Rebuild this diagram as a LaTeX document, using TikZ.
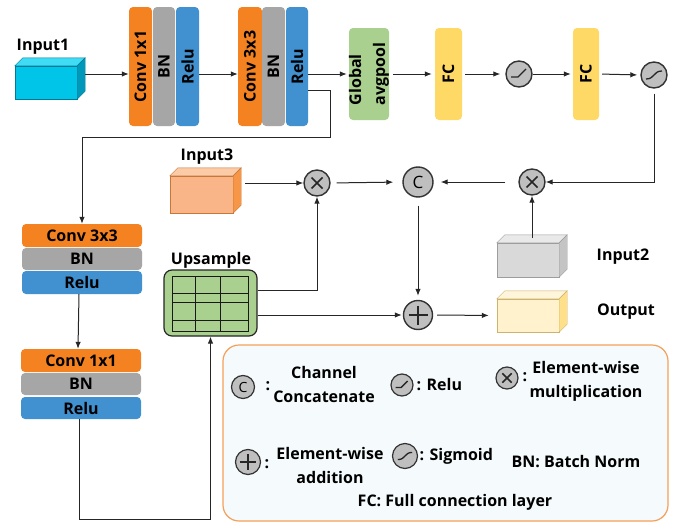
\documentclass[tikz,border=0pt]{standalone}
\usepackage{fontspec}
\setmainfont{Open Sans}
\usetikzlibrary{arrows.meta,calc}
\definecolor{cOr}{HTML}{F58220}
\definecolor{cGr}{HTML}{A6A6A6}
\definecolor{cBl}{HTML}{4190D0}
\definecolor{cGn}{HTML}{A9D08E}
\definecolor{cYe}{HTML}{FFD966}
\definecolor{legor}{HTML}{F5A05A}
\definecolor{legbg}{HTML}{F5FAFC}
\definecolor{iaf}{HTML}{00C4E8}
\definecolor{iat}{HTML}{40DCF5}
\definecolor{ias}{HTML}{0098BA}
\definecolor{icf}{HTML}{F9B488}
\definecolor{ict}{HTML}{FBCBA8}
\definecolor{ics}{HTML}{F79646}
\definecolor{ibf}{HTML}{D9D9D9}
\definecolor{ibt}{HTML}{E9E9E9}
\definecolor{ibs}{HTML}{C4C4C4}
\definecolor{iof}{HTML}{FFF2CC}
\definecolor{iot}{HTML}{FFF5DA}
\definecolor{ios}{HTML}{FFE08A}
\newcommand{\fsz}{\fontsize{16}{24}\selectfont\bfseries}
\newcommand{\mycube}[8]{%
  \node[inner sep=0pt, minimum width=#4, minimum height=#5, fill=#6, draw=#8!80!black, line width=0.4pt] (#1) at (#2,#3) {};
  \filldraw[fill=#7, draw=#8!80!black, line width=0.4pt] (#1.north west) -- ++(8,-8) -- ([shift={(8,-8)}]#1.north east) -- (#1.north east) -- cycle;
  \filldraw[fill=#8, draw=#8!80!black, line width=0.4pt] (#1.north east) -- ([shift={(8,-8)}]#1.north east) -- ([shift={(8,-8)}]#1.south east) -- (#1.south east) -- cycle;
}
\begin{document}
\begin{tikzpicture}[x=1pt,y=-1pt,
  every node/.style={font=\fsz},
  arr/.style={draw=black!85, line width=1pt, -{Latex[length=7pt,width=5.5pt]}},
  ln/.style={draw=black!85, line width=1pt},
  blk/.style={rounded corners=4pt, inner sep=0pt},
  opc/.style={circle, draw=black!80, line width=1.4pt, fill=black!25, minimum size=#1, inner sep=0pt},
  opc/.default=26pt,
  pmul/.pic={\draw[line width=1.6pt,black!85] (-5.5,-5.5)--(5.5,5.5) (-5.5,5.5)--(5.5,-5.5);},
  padd/.pic={\draw[line width=1.7pt,black!85] (-9.5,0)--(9.5,0) (0,-9.5)--(0,9.5);},
  prelu/.pic={\draw[line width=1.3pt,black!85] (-8,3)--(-1,3)--(7,-5);},
  psig/.pic={\draw[line width=1.3pt,black!85] (-8,4) .. controls (1,4) and (-1,-4) .. (8,-4);},
]
\useasboundingbox (0,0) rectangle (686,522);
\fill[white] (0,0) rectangle (686,522);
\coordinate (row) at (0,74);

% ---- Input1
\node (lin1) at (43,47) {Input1};
\mycube{in1}{46}{82.5}{62pt}{33pt}{iaf}{iat}{ias}
\coordinate (in1r) at ([xshift=8pt]in1.east);

% ---- block 1
\node[blk, fill=cOr, minimum width=23pt, minimum height=119pt] (c1) at (140.5,66.5) {};
\node[rotate=90] (tc1) at (c1) {Conv 1x1};
\node[blk, fill=cGr, minimum width=22pt, minimum height=119pt] (b1) at (164,66.5) {};
\node[rotate=90] (tb1) at (b1) {BN};
\node[blk, fill=cBl, minimum width=23pt, minimum height=119pt] (r1) at (187.5,66.5) {};
\node[rotate=90] (tr1) at (r1) {Relu};

% ---- block 2
\node[blk, fill=cOr, minimum width=24pt, minimum height=119pt] (c2) at (250,66.5) {};
\node[rotate=90] (tc2) at (c2) {Conv 3x3};
\node[blk, fill=cGr, minimum width=23pt, minimum height=119pt] (b2) at (273.5,66.5) {};
\node[rotate=90] (tb2) at (b2) {BN};
\node[blk, fill=cBl, minimum width=22pt, minimum height=119pt] (r2) at (297,66.5) {};
\node[rotate=90] (tr2) at (r2) {Relu};

% ---- GAP, FC
\node[blk, fill=cGn, minimum width=40pt, minimum height=92pt] (gap) at (369,74) {};
\node[rotate=90, align=left] (tgap) at (gap) {Global\\avgpool};
\node[blk, fill=cYe, minimum width=27pt, minimum height=92pt] (fc1) at (448.5,74) {};
\node[rotate=90] (tfc1) at (fc1) {FC};
\node[opc] (rl) at (519,74) {};
\pic at (rl) {prelu};
\node[blk, fill=cYe, minimum width=26pt, minimum height=92pt] (fc2) at (586,74) {};
\node[rotate=90] (tfc2) at (fc2) {FC};
\node[opc] (sg) at (654,75) {};
\pic at (sg) {psig};

\draw[arr] (in1r |- row) -- (c1.west |- row);
\draw[arr] (r1.east |- row) -- (c2.west |- row);
\draw[arr] (r2.east |- row) -- ([xshift=-2pt]gap.west |- row);
\draw[arr, shorten <=4pt, shorten >=3pt] (gap.east) -- (fc1.west);
\draw[arr, shorten <=3pt, shorten >=5pt] (fc1.east) -- (rl.west);
\draw[arr, shorten >=2pt] (rl.east) -- (fc2.west);
\draw[arr, shorten <=3pt, shorten >=3pt] (fc2.east) -- (sg.west);

% ---- middle row
\node (lin3) at (207,157) {Input3};
\mycube{in3}{201.5}{194.5}{63pt}{37pt}{icf}{ict}{ics}
\coordinate (in3r) at ([xshift=12pt]in3.east);
\node[opc] (m1) at (317,183) {};
\pic at (m1) {pmul};
\node[opc=30pt] (cc) at (418,182) {};
\node[font=\fontsize{17}{17}\selectfont\mdseries] (tcc) at (cc) {C};
\node[opc] (m2) at (532,182) {};
\pic at (m2) {pmul};

\node (lin2) at (623,257) {Input2};
\mycube{in2}{528}{260}{62pt}{34pt}{ibf}{ibt}{ibs}
\coordinate (in2t) at ([shift={(4,-5)}]in2.north);

\node[opc=29pt] (pl) at (418,315) {};
\pic at (pl) {padd};
\node (lout) at (626,312) {Output};
\mycube{out}{528}{315.5}{62pt}{33pt}{iof}{iot}{ios}

\draw[arr] (in3r |- m1) -- (m1.west);
\draw[arr, shorten <=6pt, shorten >=9pt] (m1.east) -- (cc.west);
\draw[arr, shorten <=13pt, shorten >=7pt] (m2.west) -- (cc.east);
\draw[arr, shorten <=5pt] (sg.south) |- (m2.east);
\draw[arr] (in2t) -- (in2t |- m2.south);
\draw[arr, shorten <=8pt, shorten >=4pt] (cc.south) -- (pl.north);
\draw[arr, shorten <=4pt, shorten >=8pt] (pl.east) -- (out.west);

% ---- Upsample
\node (lup) at (211,260) {Upsample};
\node[draw=black!85, line width=1.2pt, fill=cGn, rounded corners=8pt, minimum width=93pt, minimum height=66pt, inner sep=0pt] (up) at (210.5,303) {};
\draw[black!90, line width=1pt] (172,276) rectangle (248,331)
  (195,276) -- (195,331) (220,276) -- (220,331)
  (172,293) -- (248,293) (172,302) -- (248,302) (172,320) -- (248,320);
\draw[arr] ([yshift=13pt]up.east) -| (m1.south);
\draw[arr, shorten >=1pt] ([yshift=-12pt]up.east) -- (pl.west);

% ---- left stacks
\node[blk, fill=cOr, minimum width=120pt, minimum height=23pt] (lc1) at (82,235.5) {Conv 3x3};
\node[blk, fill=cGr, minimum width=120pt, minimum height=22pt] (lb1) at (82,259) {BN};
\node[blk, fill=cBl, minimum width=120pt, minimum height=23pt] (lr1) at (82,282.5) {Relu};
\node[blk, fill=cOr, minimum width=120pt, minimum height=23pt] (lc2) at (81,360.5) {Conv 1x1};
\node[blk, fill=cGr, minimum width=120pt, minimum height=22pt] (lb2) at (81,384) {BN};
\node[blk, fill=cBl, minimum width=120pt, minimum height=22pt] (lr2) at (81,408) {Relu};

\draw[arr] ([yshift=-24pt]r2.east) -- ++(22,0) -- ++(0,47) -| (lc1.north);
\draw[arr] ([xshift=-3pt]lr1.south) -- ([xshift=-3pt]lc2.north);
\draw[arr] ([xshift=-2pt]lr2.south) -- ++(0,100) -| (up.south);

% ---- legend
\node[draw=legor, line width=1.2pt, fill=legbg, rounded corners=16pt, minimum width=445pt, minimum height=176pt, inner sep=0pt] (leg) at (445.5,433) {};
\node[opc=23pt, line width=1.2pt] (lgc) at (243,387) {};
\node[font=\fontsize{14}{14}\selectfont\mdseries] (lgct) at (lgc) {C};
\node (lgcc) at (268,386) {:};
\node[align=center] (lgct2) at (324,384.5) {Channel\\Concatenate};

\node[opc=22pt, line width=1.2pt] (lgr) at (402,385) {};
\pic[scale=0.8] at (lgr) {prelu};
\node[anchor=west] (lgrt) at (413,385) {: Relu};

\node[opc=22pt, line width=1.2pt] (lgm) at (507,378) {};
\pic[scale=0.85] at (lgm) {pmul};
\node (lgmc) at (525,377) {:};
\node[align=center] (lgmt) at (586,381) {Element-wise\\multiplication};

\node[opc=25pt, line width=1.2pt] (lga) at (248,462) {};
\pic[scale=0.85] at (lga) {padd};
\node (lgac) at (267,464) {:};
\node[align=center] (lgat) at (330,465) {Element-wise\\addition};

\node[opc=25pt, line width=1.2pt] (lgs) at (405,456) {};
\pic[scale=0.9] at (lgs) {psig};
\node[anchor=west] (lgst) at (416,456) {: Sigmoid};

\node (lgbn) at (576,462) {BN: Batch Norm};
\node (lgfc) at (455,502) {FC: Full connection layer};
\end{tikzpicture}
\end{document}
